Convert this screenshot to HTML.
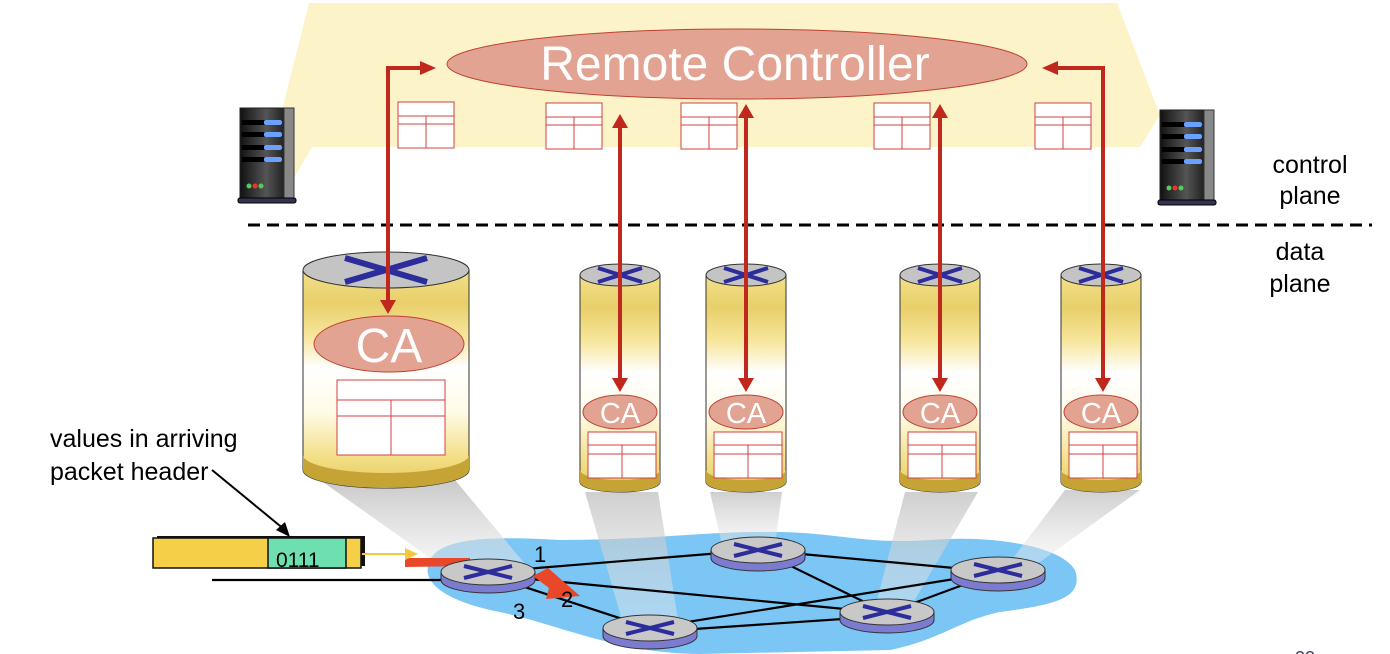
<!DOCTYPE html>
<html><head><style>body{margin:0;background:#fff}svg{display:block}</style></head><body>
<svg width="1390" height="654" viewBox="0 0 1390 654" xmlns="http://www.w3.org/2000/svg" font-family="Liberation Sans, sans-serif">
<defs>
<linearGradient id="cyl" x1="0" y1="0" x2="0" y2="1">
<stop offset="0" stop-color="#f3e08a"/><stop offset="0.15" stop-color="#e8cf6a"/><stop offset="0.3" stop-color="#f7e59a"/><stop offset="0.45" stop-color="#fff"/><stop offset="0.65" stop-color="#fffbe8"/><stop offset="0.85" stop-color="#f3e08a"/><stop offset="1" stop-color="#e6c95a"/>
</linearGradient>
<linearGradient id="cone" x1="0" y1="0" x2="0" y2="1"><stop offset="0" stop-color="#bbb"/><stop offset="1" stop-color="#eee" stop-opacity="0.6"/></linearGradient>
<linearGradient id="srv" x1="0" x2="1"><stop offset="0" stop-color="#111"/><stop offset="0.6" stop-color="#555"/><stop offset="1" stop-color="#222"/></linearGradient>
<g id="tbl"><rect x="0" y="0" width="56" height="46" fill="#fff" stroke="#d04040" stroke-width="1"/><line x1="0" y1="14" x2="56" y2="14" stroke="#d04040"/><line x1="0" y1="22" x2="56" y2="22" stroke="#d04040"/><line x1="28" y1="14" x2="28" y2="46" stroke="#d04040"/></g>
<g id="rt">
<path d="M-47,0 v8 a47,13 0 0 0 94,0 v-8z" fill="#7b7bd0" stroke="#333"/>
<ellipse cx="0" cy="0" rx="47" ry="13" fill="#c8c8c8" stroke="#333"/>
<path d="M-24,-6 L24,6 M24,-6 L-24,6" stroke="#2c2c9a" stroke-width="4"/>
</g>
<g id="server">
<rect x="0" y="0" width="44" height="90" fill="url(#srv)" stroke="#222"/>
<rect x="44" y="0" width="10" height="90" fill="#888" stroke="#333"/>
<rect x="2" y="12" width="40" height="5" fill="#000"/><rect x="24" y="12" width="18" height="5" rx="2" fill="#6aa0ff"/>
<rect x="2" y="24" width="40" height="5" fill="#000"/><rect x="24" y="24" width="18" height="5" rx="2" fill="#6aa0ff"/>
<rect x="2" y="37" width="40" height="5" fill="#000"/><rect x="24" y="37" width="18" height="5" rx="2" fill="#6aa0ff"/>
<rect x="2" y="49" width="40" height="5" fill="#000"/><rect x="24" y="49" width="18" height="5" rx="2" fill="#6aa0ff"/>
<circle cx="9" cy="78" r="2.5" fill="#5c5"/><circle cx="15" cy="78" r="2.5" fill="#e33"/><circle cx="21" cy="78" r="2.5" fill="#5c5"/>
<rect x="-2" y="90" width="58" height="5" rx="2" fill="#335" stroke="#000"/>
</g>
</defs>

<polygon points="309,3 1117,3 1125,40 1125,147 312,147 294,178 282,110" fill="#fcf3c8"/>
<polygon points="1117,3 1160,115 1140,147 1125,147" fill="#fcf3c8"/>

<use href="#server" x="240" y="108"/>
<use href="#server" x="1160" y="110"/>

<ellipse cx="737" cy="64" rx="290" ry="35" fill="#e3a392" stroke="#c04030"/>
<text x="735" y="80" font-size="48" fill="#fff" text-anchor="middle">Remote Controller</text>

<use href="#tbl" x="398" y="102"/><use href="#tbl" x="546" y="103"/><use href="#tbl" x="681" y="103"/><use href="#tbl" x="874" y="103"/><use href="#tbl" x="1035" y="103"/>

<line x1="248" y1="225" x2="1372" y2="225" stroke="#000" stroke-width="3" stroke-dasharray="12,7"/>
<text x="1310" y="173" font-size="25" text-anchor="middle">control</text>
<text x="1310" y="204" font-size="25" text-anchor="middle">plane</text>
<text x="1300" y="260" font-size="25" text-anchor="middle">data</text>
<text x="1300" y="292" font-size="25" text-anchor="middle">plane</text>

<path d="M430,560 C440,540 480,535 560,540 C650,540 700,532 760,532 C830,530 860,545 930,540 C990,535 1060,545 1075,570 C1085,600 1050,605 1000,612 C960,620 940,640 890,650 L700,654 C620,654 560,625 500,612 C440,600 420,580 430,560Z" fill="#7cc6f5"/>

<polygon points="320,480 455,480 530,570 440,565" fill="url(#cone)" opacity="0.8"/>
<polygon points="585,492 658,492 678,620 622,620" fill="url(#cone)" opacity="0.7"/>
<polygon points="710,492 782,492 775,545 722,545" fill="url(#cone)" opacity="0.7"/>
<polygon points="905,492 978,492 910,608 875,608" fill="url(#cone)" opacity="0.7"/>
<polygon points="1065,490 1140,490 1040,562 1010,562" fill="url(#cone)" opacity="0.7"/>

<g stroke="#000" stroke-width="2.2">
<line x1="212" y1="580" x2="445" y2="580"/>
<line x1="488" y1="572" x2="758" y2="550"/>
<line x1="488" y1="575" x2="887" y2="613"/>
<line x1="488" y1="575" x2="650" y2="628"/>
<line x1="758" y1="550" x2="887" y2="613"/>
<line x1="758" y1="550" x2="998" y2="572"/>
<line x1="650" y1="628" x2="998" y2="572"/>
<line x1="650" y1="632" x2="887" y2="616"/>
<line x1="887" y1="613" x2="998" y2="572"/>
</g>
<path d="M405,558 L470,558 L470,566 L405,567Z" fill="#e8472a"/>
<use href="#rt" x="488" y="572"/>
<use href="#rt" x="758" y="550"/>
<use href="#rt" x="650" y="628"/>
<use href="#rt" x="887" y="612"/>
<use href="#rt" x="998" y="570"/>
<polygon points="533,576 548,568 580,596 546,599 549,588" fill="#e8472a"/>
<text x="534" y="562" font-size="22">1</text>
<text x="561" y="607" font-size="22">2</text>
<text x="513" y="619" font-size="22">3</text>

<rect x="157" y="536" width="208" height="30" fill="#111"/>
<rect x="153" y="538" width="208" height="30" fill="#f5cf48" stroke="#111" stroke-width="1.5"/>
<rect x="268" y="538" width="78" height="30" fill="#6ee0b0" stroke="#111" stroke-width="1.5"/>
<text x="276" y="567" font-size="21">0111</text>
<line x1="362" y1="554" x2="405" y2="554" stroke="#f5c842" stroke-width="2"/>
<polygon points="405,548 418,554 405,560" fill="#f5c842"/>
<line x1="212" y1="470" x2="285" y2="530" stroke="#000" stroke-width="2"/>
<polygon points="290,537 276,530 285,522" fill="#000"/>
<text x="50" y="447" font-size="25">values in arriving</text>
<text x="50" y="480" font-size="25">packet header</text>

<path d="M303,270 V470 A83,18 0 0 0 469,470 V270Z" fill="url(#cyl)" stroke="#333"/>
<path d="M303,455 V470 A83,18 0 0 0 469,470 V455 A83,18 0 0 1 303,455Z" fill="#c5a435"/>
<ellipse cx="386" cy="270" rx="83" ry="18" fill="#c4c4c4" stroke="#333"/>
<path d="M345,258 L427,282 M427,258 L345,282" stroke="#2c2c9a" stroke-width="6"/>
<ellipse cx="389" cy="344" rx="75" ry="28" fill="#e3a392" stroke="#c04030"/>
<text x="389" y="362" font-size="48" fill="#fff" text-anchor="middle">CA</text>
<rect x="337" y="380" width="108" height="75" fill="#fff" stroke="#d04040"/>
<line x1="337" y1="400" x2="445" y2="400" stroke="#d04040"/><line x1="337" y1="416" x2="445" y2="416" stroke="#d04040"/><line x1="391" y1="400" x2="391" y2="455" stroke="#d04040"/>

<g id="sc">
<path d="M580,275 V482 A40,10 0 0 0 660,482 V275Z" fill="url(#cyl)" stroke="#333"/>
<path d="M580,470 V482 A40,10 0 0 0 660,482 V470 A40,10 0 0 1 580,470Z" fill="#c5a435"/>
<ellipse cx="620" cy="275" rx="40" ry="11" fill="#c4c4c4" stroke="#333"/>
<path d="M598,268 L642,282 M642,268 L598,282" stroke="#2c2c9a" stroke-width="4"/>
<ellipse cx="620" cy="412" rx="37" ry="17" fill="#e3a392" stroke="#c04030"/>
<text x="620" y="423" font-size="29" fill="#fff" text-anchor="middle">CA</text>
<rect x="588" y="432" width="68" height="46" fill="#fff" stroke="#d04040"/>
<line x1="588" y1="445" x2="656" y2="445" stroke="#d04040"/><line x1="588" y1="454" x2="656" y2="454" stroke="#d04040"/><line x1="622" y1="445" x2="622" y2="478" stroke="#d04040"/>
</g>
<use href="#sc" x="126"/>
<use href="#sc" x="320"/>
<use href="#sc" x="481"/>

<g stroke="#c0281e" stroke-width="4" fill="none">
<polyline points="388,303 388,68 422,68"/>
<line x1="620" y1="128" x2="620" y2="380"/>
<line x1="746" y1="118" x2="746" y2="380"/>
<line x1="940" y1="118" x2="940" y2="380"/>
<polyline points="1103,380 1103,68 1056,68"/>
</g>
<g fill="#c0281e">
<polygon points="380,300 396,300 388,314"/>
<polygon points="420,61 436,68 420,75"/>
<polygon points="612,128 628,128 620,114"/><polygon points="612,378 628,378 620,392"/>
<polygon points="738,118 754,118 746,104"/><polygon points="738,378 754,378 746,392"/>
<polygon points="932,118 948,118 940,104"/><polygon points="932,378 948,378 940,392"/>
<polygon points="1095,378 1111,378 1103,392"/>
<polygon points="1058,61 1042,68 1058,75"/>
</g>
<text x="1295" y="664" font-size="18" fill="#446">23</text>
</svg>
</body></html>
